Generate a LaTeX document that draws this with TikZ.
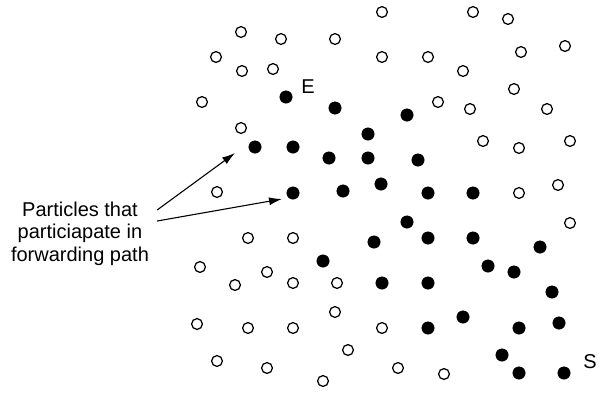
\documentclass[tikz,border=0pt]{standalone}
\usepackage{fontspec}
\setmainfont{Liberation Sans}
\usetikzlibrary{arrows.meta}
\pgfdeclarelayer{edgelayer}
\pgfdeclarelayer{nodelayer}
\pgfsetlayers{edgelayer,nodelayer,main}
\tikzstyle{idle}=[circle, fill=white, draw=black, line width=1.25pt, inner sep=0pt, minimum size=10.8pt]
\tikzstyle{active}=[circle, fill=black, draw=black, inner sep=0pt, minimum size=12.5pt]
\tikzstyle{tag}=[font=\fontsize{20}{22.5}\selectfont, inner sep=0pt]
\tikzstyle{note}=[align=center, font=\fontsize{20}{22.5}\selectfont, inner sep=8pt]
\tikzstyle{pointer}=[draw=black, line width=1.1pt, -{Latex[length=13pt,width=8pt]}]

\begin{document}
\begin{tikzpicture}[x=1pt, y=-1pt]
	\useasboundingbox (0, 0) rectangle (603, 392);
	\begin{pgfonlayer}{nodelayer}
		% particles not on the path
		\node [style=idle] (1) at (382, 12) {};
		\node [style=idle] (2) at (473, 12) {};
		\node [style=idle] (3) at (508, 19) {};
		\node [style=idle] (4) at (241, 32) {};
		\node [style=idle] (5) at (281, 39) {};
		\node [style=idle] (6) at (335, 39) {};
		\node [style=idle] (7) at (565, 46) {};
		\node [style=idle] (8) at (521, 52) {};
		\node [style=idle] (9) at (216, 57) {};
		\node [style=idle] (10) at (382, 57) {};
		\node [style=idle] (11) at (428, 57) {};
		\node [style=idle] (12) at (242, 71) {};
		\node [style=idle] (13) at (273, 69) {};
		\node [style=idle] (14) at (463, 71) {};
		\node [style=idle] (15) at (514, 89) {};
		\node [style=idle] (16) at (202, 102) {};
		\node [style=idle] (17) at (438, 102) {};
		\node [style=idle] (18) at (470, 109) {};
		\node [style=idle] (19) at (547, 109) {};
		\node [style=idle] (20) at (241, 128) {};
		\node [style=idle] (21) at (483, 141) {};
		\node [style=idle] (22) at (519, 148) {};
		\node [style=idle] (23) at (570, 141) {};
		\node [style=idle] (24) at (217, 192) {};
		\node [style=idle] (25) at (519, 193) {};
		\node [style=idle] (26) at (558, 185) {};
		\node [style=idle] (27) at (570, 223) {};
		\node [style=idle] (28) at (248, 238) {};
		\node [style=idle] (29) at (293, 238) {};
		\node [style=idle] (30) at (200, 267) {};
		\node [style=idle] (31) at (267, 272) {};
		\node [style=idle] (32) at (235, 285) {};
		\node [style=idle] (33) at (293, 283) {};
		\node [style=idle] (34) at (337, 283) {};
		\node [style=idle] (35) at (335, 312) {};
		\node [style=idle] (36) at (197, 324) {};
		\node [style=idle] (37) at (248, 328) {};
		\node [style=idle] (38) at (293, 328) {};
		\node [style=idle] (39) at (382, 328) {};
		\node [style=idle] (40) at (348, 350) {};
		\node [style=idle] (41) at (217, 361) {};
		\node [style=idle] (42) at (267, 368) {};
		\node [style=idle] (43) at (323, 381) {};
		\node [style=idle] (44) at (398, 368) {};
		\node [style=idle] (45) at (444, 374) {};
		% forwarding path
		\node [style=active] (46) at (286, 97) {};
		\node [style=active] (47) at (335, 108) {};
		\node [style=active] (48) at (407, 115) {};
		\node [style=active] (49) at (368, 134) {};
		\node [style=active] (50) at (255, 147) {};
		\node [style=active] (51) at (293, 147) {};
		\node [style=active] (52) at (329, 158) {};
		\node [style=active] (53) at (368, 158) {};
		\node [style=active] (54) at (418, 160) {};
		\node [style=active] (55) at (381, 184) {};
		\node [style=active] (56) at (293, 193) {};
		\node [style=active] (57) at (343, 191) {};
		\node [style=active] (58) at (428, 193) {};
		\node [style=active] (59) at (473, 193) {};
		\node [style=active] (60) at (407, 222) {};
		\node [style=active] (61) at (374, 242) {};
		\node [style=active] (62) at (428, 238) {};
		\node [style=active] (63) at (473, 238) {};
		\node [style=active] (64) at (540, 247) {};
		\node [style=active] (65) at (323, 261) {};
		\node [style=active] (66) at (488, 266) {};
		\node [style=active] (67) at (514, 272) {};
		\node [style=active] (68) at (382, 283) {};
		\node [style=active] (69) at (428, 283) {};
		\node [style=active] (70) at (552, 292) {};
		\node [style=active] (71) at (463, 317) {};
		\node [style=active] (72) at (428, 328) {};
		\node [style=active] (73) at (519, 328) {};
		\node [style=active] (74) at (559, 323) {};
		\node [style=active] (75) at (502, 355) {};
		\node [style=active] (76) at (519, 373) {};
		\node [style=active] (77) at (564, 373) {};
		% end points and text
		\node [style=tag] (E) at (308, 87) {E};
		\node [style=tag] (S) at (590, 362) {S};
		\node [style=note] (info) at (80, 233.5) {Particles that\\particiapate in\\forwarding path};
		\coordinate (tip1) at (235, 153);
		\coordinate (tip2) at (282, 199);
	\end{pgfonlayer}
	\begin{pgfonlayer}{edgelayer}
		\draw [style=pointer] ([yshift=23.5pt]info.east) to (tip1);
		\draw [style=pointer] ([yshift=12.5pt]info.east) to (tip2);
	\end{pgfonlayer}
\end{tikzpicture}
\end{document}
